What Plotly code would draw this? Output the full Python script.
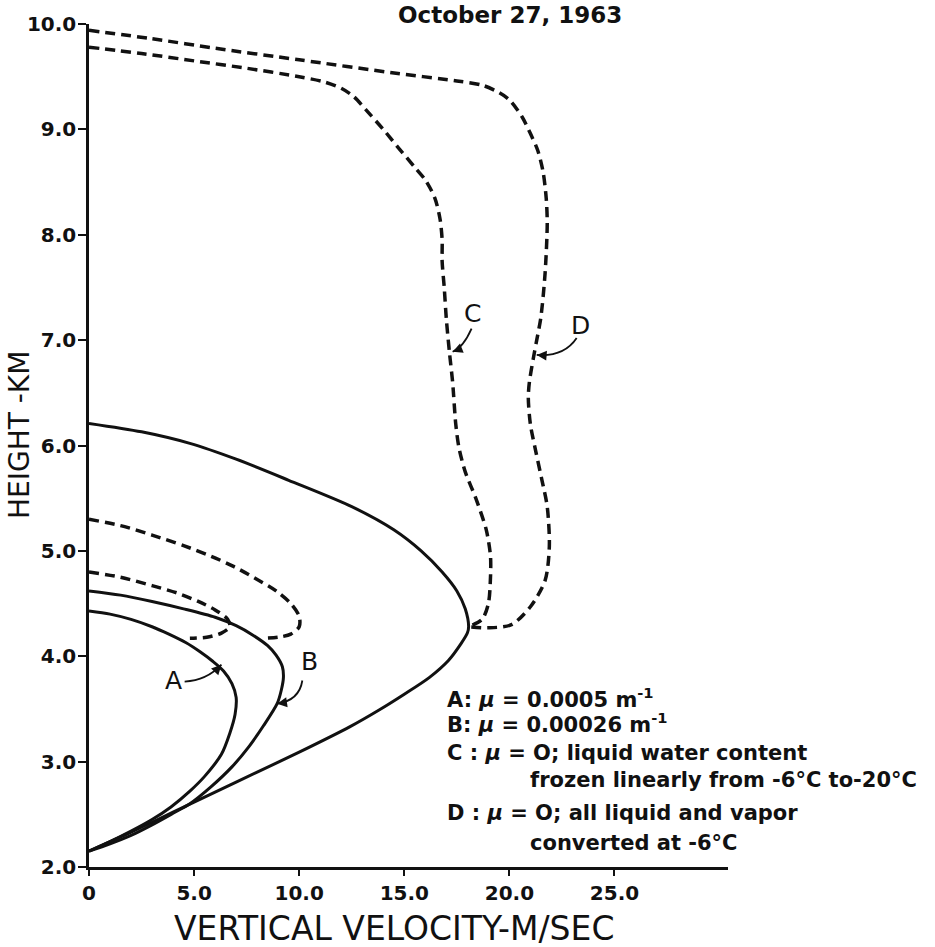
import plotly.graph_objects as go

# ---------------- data ----------------
# Curve A (solid): mu = 0.0005 m-1
A_x = [0, 1.0, 2.0, 3.0, 3.9, 4.8, 5.5, 6.3, 6.7, 6.95, 7.0, 6.8, 6.4, 5.9, 5.3, 4.6, 3.8, 3.0, 2.0, 1.0, 0]
A_h = [2.15, 2.24, 2.34, 2.45, 2.57, 2.72, 2.86, 3.07, 3.27, 3.45, 3.61, 3.74, 3.86, 3.95, 4.04, 4.13, 4.21, 4.28, 4.35, 4.40, 4.43]

# Curve B (solid): mu = 0.00026 m-1
B_x = [0, 1.0, 2.0, 3.0, 4.0, 4.8, 5.8, 6.8, 7.6, 8.3, 8.95, 9.15, 9.25, 9.2, 8.9, 8.5, 7.8, 7.0, 6.0, 4.5, 3.0, 1.5, 0]
B_h = [2.15, 2.22, 2.30, 2.40, 2.51, 2.60, 2.76, 2.95, 3.14, 3.34, 3.55, 3.68, 3.80, 3.90, 4.01, 4.10, 4.20, 4.29, 4.37, 4.45, 4.52, 4.58, 4.62]

# Outer solid envelope
E_x = [0, 2.0, 4.0, 6.0, 8.0, 10.0, 12.4, 13.8, 15.0, 16.2, 17.1, 17.7, 18.0, 18.06, 17.9, 17.5, 16.8, 15.8, 14.5, 12.5, 9.5, 7.0, 4.8, 2.5, 0]
E_h = [2.15, 2.33, 2.52, 2.71, 2.90, 3.09, 3.33, 3.49, 3.64, 3.80, 3.96, 4.12, 4.22, 4.28, 4.45, 4.62, 4.80, 5.00, 5.20, 5.42, 5.67, 5.87, 6.02, 6.13, 6.21]

# Dashed loop starting at 5.3 km
L1_x = [0, 1.5, 3.0, 4.5, 5.8, 6.9, 7.9, 8.9, 9.6, 10.0, 10.0, 9.6, 9.0, 8.25]
L1_h = [5.30, 5.24, 5.15, 5.05, 4.95, 4.85, 4.74, 4.62, 4.50, 4.38, 4.28, 4.21, 4.18, 4.17]

# Dashed loop starting at 4.8 km
L2_x = [0, 1.5, 3.0, 4.2, 5.2, 6.0, 6.6, 6.7, 6.3, 5.6, 4.8]
L2_h = [4.80, 4.75, 4.67, 4.60, 4.52, 4.44, 4.35, 4.28, 4.22, 4.18, 4.17]

# Curve C (dashed)
C_x = [0, 2.5, 5.0, 7.5, 10.0, 11.2, 12.0, 12.6, 13.2, 14.0, 14.7, 15.5, 16.0, 16.45, 16.7, 16.8, 16.8, 16.9, 17.0,
       17.15, 17.3, 17.45, 17.6, 17.9, 18.4, 18.9, 19.1, 19.1, 19.0, 18.7, 18.06]
C_h = [9.78, 9.72, 9.65, 9.58, 9.50, 9.45, 9.39, 9.31, 9.18, 9.00, 8.83, 8.64, 8.52, 8.35, 8.15, 7.95, 7.75, 7.50, 7.20,
       6.88, 6.60, 6.20, 5.98, 5.75, 5.50, 5.20, 4.95, 4.75, 4.50, 4.35, 4.28]

# Curve D (dashed)
D_x = [0, 3.0, 6.0, 10.0, 14.7, 17.5, 18.7, 19.5, 20.0, 20.6, 21.0, 21.35, 21.6, 21.75, 21.8, 21.7, 21.5, 21.3,
       21.15, 20.95, 20.9, 21.0, 21.25, 21.55, 21.8, 21.9, 21.7, 21.0, 20.1, 19.0, 18.06]
D_h = [9.94, 9.86, 9.77, 9.66, 9.53, 9.46, 9.42, 9.35, 9.28, 9.12, 8.96, 8.80, 8.60, 8.35, 8.11, 7.64, 7.22, 7.00,
       6.84, 6.60, 6.45, 6.20, 5.95, 5.67, 5.42, 5.04, 4.72, 4.47, 4.30, 4.27, 4.28]

x_ticks = [0, 5, 10, 15, 20, 25]
x_ticktext = ["0", "5.0", "10.0", "15.0", "20.0", "25.0"]
y_ticks = [2, 3, 4, 5, 6, 7, 8, 9, 10]
y_ticktext = ["2.0", "3.0", "4.0", "5.0", "6.0", "7.0", "8.0", "9.0", "10.0"]

# curve labels: name, label pos, arrow start, control point, arrow tip
labels = ["A", "B", "C", "D"]
label_pos = [(4.0, 3.77), (10.5, 3.95), (18.25, 7.25), (23.4, 7.14)]
arrow_start = [(4.55, 3.76), (10.15, 3.77), (18.2, 7.11), (23.2, 7.02)]
arrow_ctrl = [(5.6, 3.77), (10.0, 3.58), (17.8, 6.93), (22.6, 6.84)]
arrow_tip = [(6.3, 3.92), (8.95, 3.55), (17.3, 6.89), (21.3, 6.86)]

legend_lines = [
    "A: <i>μ</i> = 0.0005 m<sup>-1</sup>",
    "B: <i>μ</i> = 0.00026 m<sup>-1</sup>",
    "C : <i>μ</i> = O; liquid water content",
    "frozen linearly from -6°C to-20°C",
    "D : <i>μ</i> = O; all liquid and vapor",
    "converted at -6°C",
]
legend_indent = [0, 0, 0, 1, 0, 1]

# ---------------- figure ----------------
BLACK = "#111111"
FONT = "DejaVu Sans"
fig = go.Figure()

solid = dict(color=BLACK, width=3)
dashed = dict(color=BLACK, width=3.5, dash="10px,6px")

for xs, hs, ln in [(E_x, E_h, solid), (B_x, B_h, solid), (A_x, A_h, solid),
                   (L1_x, L1_h, dashed), (L2_x, L2_h, dashed),
                   (C_x, C_h, dashed), (D_x, D_h, dashed)]:
    fig.add_trace(go.Scatter(x=xs, y=hs, mode="lines", line=dict(ln, shape="spline", smoothing=0.8),
                             hoverinfo="skip", showlegend=False, cliponaxis=False))

# plot area in pixels
L, R, T, B = 89, 728, 24, 867
W, H = 935, 947
def px(xp):
    return (xp - L) / (R - L)
def py(yp):
    return (B - yp) / (B - T)

shapes = []
ann = []
for name, lp, s, c, t in zip(labels, label_pos, arrow_start, arrow_ctrl, arrow_tip):
    ann.append(dict(x=lp[0], y=lp[1], xref="x", yref="y", text=name, showarrow=False,
                    font=dict(family=FONT, size=25, color=BLACK)))
    shapes.append(dict(type="path", xref="x", yref="y",
                       path=f"M {s[0]},{s[1]} Q {c[0]},{c[1]} {t[0]},{t[1]}",
                       line=dict(color=BLACK, width=1.8)))
    # arrow head along the tangent (control -> tip)
    ann.append(dict(x=t[0], y=t[1], ax=c[0] + (t[0] - c[0]) * 0.6, ay=c[1] + (t[1] - c[1]) * 0.6,
                    xref="x", yref="y", axref="x", ayref="y", text="", showarrow=True,
                    arrowhead=2, arrowsize=1.1, arrowwidth=1.8, arrowcolor=BLACK))

legend_y = [698, 723, 753, 780, 813, 843]
for txt, ind, yy in zip(legend_lines, legend_indent, legend_y):
    ann.append(dict(x=px(528 if ind else 445), y=py(yy), xref="paper", yref="paper", text=txt,
                    showarrow=False, xanchor="left", yanchor="middle",
                    font=dict(family=FONT, size=21, color=BLACK, weight="bold")))

ann.append(dict(x=px(510), y=py(15), xref="paper", yref="paper", text="October 27, 1963",
                showarrow=False, xanchor="center", yanchor="middle",
                font=dict(family=FONT, size=23, color=BLACK, weight="bold")))
ann.append(dict(x=px(394), y=py(928), xref="paper", yref="paper", text="VERTICAL VELOCITY-M/SEC",
                showarrow=False, xanchor="center", yanchor="middle",
                font=dict(family=FONT, size=33, color=BLACK)))
ann.append(dict(x=px(19), y=py(435), xref="paper", yref="paper", text="HEIGHT -KM", textangle=-90,
                showarrow=False, xanchor="center", yanchor="middle",
                font=dict(family=FONT, size=28, color=BLACK)))

axis_common = dict(showgrid=False, zeroline=False, showline=True, linecolor=BLACK, linewidth=2.5,
                   ticks="outside", tickcolor=BLACK, tickwidth=2,
                   tickfont=dict(family=FONT, size=20, color=BLACK, weight="bold"))
fig.update_layout(
    width=W, height=H,
    margin=dict(l=L, r=W - R, t=T, b=H - B, pad=0),
    paper_bgcolor="white", plot_bgcolor="white",
    xaxis=dict(axis_common, range=[0, 30.4], tickvals=x_ticks, ticktext=x_ticktext, ticklen=6),
    yaxis=dict(axis_common, range=[2, 10], tickvals=y_ticks, ticktext=y_ticktext, ticklen=8,
               ticklabelstandoff=-2),
    shapes=shapes, annotations=ann, showlegend=False,
)
fig.write_html("out.html")
